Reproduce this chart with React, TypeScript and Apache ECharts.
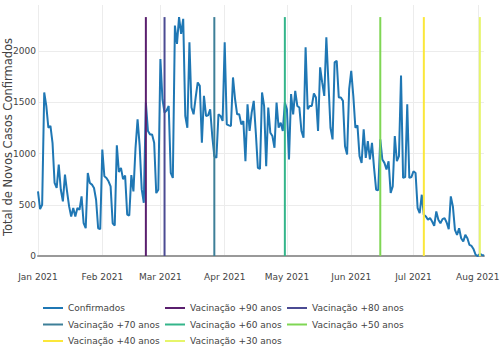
import React, { useEffect, useRef } from "react";
import * as echarts from "echarts";

const START_DATE = "2021-01-01";
const confirmados = [
  631, 458, 500, 1596, 1465, 1252, 1269, 1105, 713, 664,
  893, 647, 533, 795, 631, 484, 386, 468, 386, 468,
  451, 582, 320, 271, 811, 713, 697, 664, 549, 271,
  262, 1040, 778, 762, 729, 680, 320, 297, 1080, 820,
  860, 750, 785, 405, 395, 790, 631, 1050, 1334, 1080,
  650, 520, 1497, 1220, 1187, 1187, 1105, 614, 647, 1922,
  1530, 1400, 1420, 1465, 811, 762, 2250, 2070, 2332, 2168,
  2315, 1367, 1252, 2086, 1449, 1383, 1547, 1694, 1661, 1105,
  1563, 1367, 1373, 1432, 1171, 975, 958, 1383, 1367, 1318,
  2086, 1285, 1275, 1269, 1743, 1530, 1383, 1383, 1285, 1318,
  925, 1481, 1220, 1400, 1514, 1203, 860, 850, 1596, 1465,
  876, 1449, 1203, 1171, 1056, 1498, 1252, 1301, 1220, 1498,
  1432, 942, 1580, 1383, 1612, 1465, 1449, 1220, 1154, 2037,
  1432, 1465, 1465, 1586, 1547, 1220, 1841, 1694, 1563, 2135,
  1694, 1252, 1138, 1890, 1906, 1547, 1547, 1514, 1072, 991,
  1628, 1808, 1563, 1252, 1275, 975, 909, 1236, 958, 1122,
  942, 1105, 860, 647, 641, 1138, 942, 909, 844, 925,
  615, 680, 1171, 925, 975, 1761, 762, 770, 1481, 762,
  770, 827, 811, 468, 419, 598, 402, 386, 353, 370,
  337, 294, 435, 353, 320, 360, 370, 327, 262, 582,
  484, 255, 206, 271, 173, 141, 206, 173, 108, 98,
  65, 10, 0, 20, 10, 5,
];

const vacNames = [
  "Vacinação +90 anos",
  "Vacinação +80 anos",
  "Vacinação +70 anos",
  "Vacinação +60 anos",
  "Vacinação +50 anos",
  "Vacinação +40 anos",
  "Vacinação +30 anos",
];
const vacDates = [
  "2021-02-22",
  "2021-03-03",
  "2021-03-27",
  "2021-04-30",
  "2021-06-15",
  "2021-07-06",
  "2021-08-02",
];
const vacColors = ["#5a1f6e", "#4b4b93", "#3d7f98", "#34b58a", "#7fd654", "#fbe73a", "#e6f56a"];
const confColor = "#1f77b4";
const yTitle = "Total de Novos Casos Confirmados";
const monthNames = ["Jan", "Feb", "Mar", "Apr", "May", "Jun", "Jul", "Aug", "Sep", "Oct", "Nov", "Dec"];

function buildDays(start: string, n: number): string[] {
  const out: string[] = [];
  const d0 = new Date(start + "T00:00:00Z");
  for (let i = 0; i < n; i++) {
    const d = new Date(d0.getTime() + i * 86400000);
    out.push(d.toISOString().slice(0, 10));
  }
  return out;
}

const FONT = "DejaVu Sans";

export default function App() {
  const ref = useRef<HTMLDivElement>(null);
  useEffect(() => {
    if (!ref.current) return;
    const chart = echarts.init(ref.current, undefined, { renderer: "svg" });
    const days = buildDays(START_DATE, confirmados.length);
    const maxV = Math.max(...confirmados);
    const isMonthStart = (_i: number, v: string) => v.slice(8, 10) === "01";
    const series: any[] = [
      {
        name: "Confirmados",
        type: "line",
        data: confirmados,
        symbol: "none",
        lineStyle: { color: confColor, width: 2 },
        itemStyle: { color: confColor },
      },
      ...vacNames.map((n, i) => ({
        name: n,
        type: "line",
        data: [
          [vacDates[i], 0],
          [vacDates[i], maxV],
        ],
        symbol: "none",
        lineStyle: { color: vacColors[i], width: 2 },
        itemStyle: { color: vacColors[i] },
      })),
    ];
    const legendCommon = {
      orient: "vertical",
      top: 302,
      padding: 0,
      icon: "rect",
      itemWidth: 20,
      itemHeight: 2,
      itemGap: 4.5,
      textStyle: { fontFamily: FONT, fontSize: 9, color: "#444", lineHeight: 12 },
    };
    chart.setOption({
      animation: false,
      backgroundColor: "#fff",
      grid: { left: 38, right: 20, top: 5, bottom: 99, containLabel: false, outerBoundsMode: "none" },
      graphic: [
        {
          type: "text",
          x: 8,
          y: 137,
          rotation: Math.PI / 2,
          style: {
            text: yTitle,
            fontFamily: FONT,
            fontSize: 11.5,
            fill: "#444",
            align: "center",
            verticalAlign: "middle",
          },
        },
      ],
      legend: [
        { ...legendCommon, left: 43, data: ["Confirmados", vacNames[2], vacNames[5]] },
        { ...legendCommon, left: 165, data: [vacNames[0], vacNames[3], vacNames[6]] },
        { ...legendCommon, left: 287, data: [vacNames[1], vacNames[4]] },
      ],
      xAxis: {
        type: "category",
        data: days,
        boundaryGap: false,
        axisLine: { show: true, lineStyle: { color: "#999", width: 2 } },
        axisTick: { show: false },
        axisLabel: {
          interval: isMonthStart,
          margin: 16,
          fontFamily: FONT,
          fontSize: 9,
          color: "#444",
          formatter: (v: string) => `${monthNames[parseInt(v.slice(5, 7), 10) - 1]} ${v.slice(0, 4)}`,
        },
        splitLine: { show: true, interval: isMonthStart, lineStyle: { color: "#ececec", width: 1 } },
      },
      yAxis: {
        type: "value",
        min: 0,
        max: 2450,
        interval: 500,
        axisLine: { show: false },
        axisTick: { show: false },
        axisLabel: {
          margin: 2,
          fontFamily: FONT,
          fontSize: 9,
          color: "#444",
          showMaxLabel: false,
          formatter: (v: number) => String(v),
        },
        splitLine: { show: true, showMaxLine: false, lineStyle: { color: "#ececec", width: 1 } },
      },
      series,
    });
    return () => chart.dispose();
  }, []);
  return <div ref={ref} style={{ position: "fixed", left: 0, top: 0, width: 504, height: 355 }} />;
}
